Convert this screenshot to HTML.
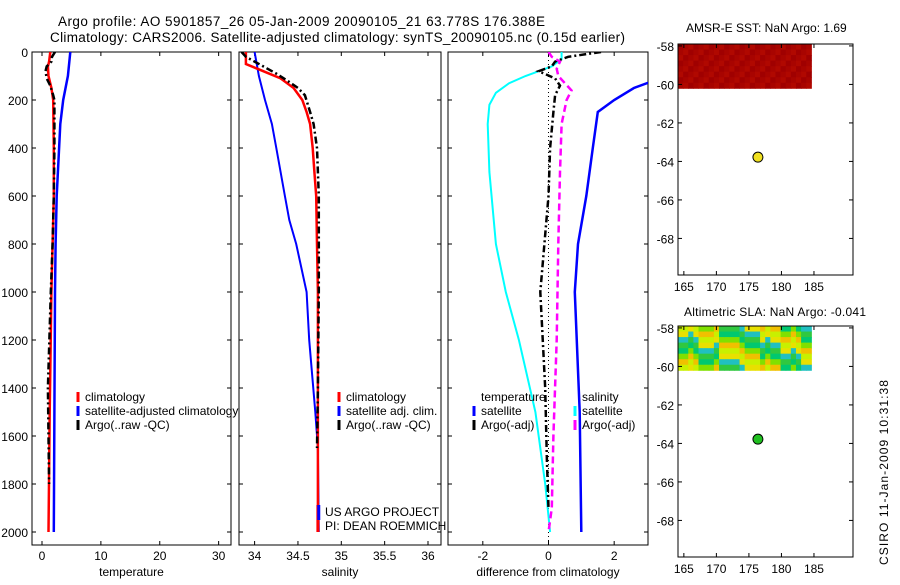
<!DOCTYPE html>
<html><head><meta charset="utf-8"><style>
body{margin:0;background:#fff;width:900px;height:580px;overflow:hidden}
svg text{font-family:"Liberation Sans",sans-serif;font-size:12px;fill:#000}
</style></head><body>
<svg id="c" width="900" height="580" xmlns="http://www.w3.org/2000/svg">
<text x="58" y="26" textLength="487" style="font-size:13.5px">Argo profile: AO 5901857_26 05-Jan-2009 20090105_21 63.778S 176.388E</text>
<text x="50" y="42" textLength="575" style="font-size:13.5px">Climatology: CARS2006. Satellite-adjusted climatology: synTS_20090105.nc (0.15d earlier)</text>
<text x="686" y="32">AMSR-E SST: NaN Argo: 1.69</text>
<text x="684" y="316" textLength="182">Altimetric SLA: NaN Argo: -0.041</text>
<text transform="translate(888,565) rotate(-90)" textLength="185">CSIRO 11-Jan-2009 10:31:38</text>
</svg>
<script>
const depthTicks=[0,200,400,600,800,1000,1200,1400,1600,1800,2000];
const tTicks=[0,10,20,30], sTicks=[34,34.5,35,35.5,36], dTicks=[-2,0,2];
const lonTicks=[165,170,175,180,185], latTicks=[-58,-60,-62,-64,-66,-68];
// temperature panel
const tClimD=[0,40,60,100,150,200,400,600,1000,1500,2000];
const tClimV=[1.4,1.2,1.0,1.1,1.6,1.9,2.0,2.0,1.6,1.3,1.1];
const tSatD=[0,100,200,300,600,800,1000,1500,2000];
const tSatV=[4.8,4.4,3.6,3.1,2.5,2.3,2.2,2.1,2.0];
const tArgoD=[0,20,40,60,80,110,140,180,200,400,600,800,1000,1400,1600,1800];
const tArgoV=[2.2,1.7,1.6,0.8,0.6,0.8,1.4,1.9,2.1,2.1,2.0,1.8,1.5,1.0,1.1,1.2];
// salinity panel
const sClimD=[0,50,80,110,150,200,250,300,400,500,600,800,1000,2000];
const sClimV=[33.9,33.9,34.1,34.3,34.45,34.55,34.6,34.64,34.67,34.69,34.71,34.72,34.73,34.73];
const sSatD=[0,100,200,300,400,600,700,800,1000,1200,1500,1650,2000];
const sSatV=[34.0,34.05,34.12,34.2,34.25,34.35,34.4,34.48,34.6,34.63,34.7,34.73,34.74];
const sArgoD=[0,20,40,60,90,120,150,180,250,300,400,600,1000,1400,1650];
const sArgoV=[33.85,33.9,34.0,34.1,34.25,34.38,34.5,34.58,34.64,34.68,34.72,34.74,34.74,34.73,34.72];
// difference panel
const dTSatD=[0,50,100,150,200,250,400,600,800,1000,1500,2000];
const dTSatV=[6,5,3.6,2.6,2.0,1.5,1.35,1.15,0.9,0.8,0.95,1.0];
const dSSatD=[0,30,60,100,130,170,220,300,500,800,1000,1200,1500,1800,2000];
const dSSatV=[0.4,0.4,0.1,-0.7,-1.2,-1.6,-1.8,-1.85,-1.8,-1.6,-1.3,-0.9,-0.4,-0.1,0.05];
const dTArgoD=[0,20,40,60,80,110,140,180,250,400,600,1000,1400,1700,1900];
const dTArgoV=[1.6,0.6,0.2,0.1,-0.3,0.2,0.35,0.2,0.15,0.05,0.0,-0.25,-0.1,-0.05,0.0];
const dSArgoD=[0,20,40,70,100,130,160,200,300,500,800,1200,1600,1900,2000];
const dSArgoV=[0.0,0.1,0.35,0.25,0.3,0.5,0.7,0.55,0.4,0.35,0.3,0.25,0.15,0.1,0.0];
// maps
const argoLon=176.388, argoLat=-63.778, fieldEastLon=184.6;
const sstCols=["#a00000","#a80400","#b00800"];
const slaCols=["#c8f000","#80e000","#30c840","#e8e000","#f0c000","#00c870","#20c0c0"];

const svg=document.getElementById('c');
const NS='http://www.w3.org/2000/svg';
function mk(tag,a,name,par){const e=document.createElementNS(NS,tag);for(const k in a)e.setAttribute(k,a[k]);


(par||svg).appendChild(e);return e;}
function txt(x,y,s,name,anchor){const e=mk('text',{x:x,y:y,'text-anchor':anchor||'start'},name);e.textContent=s;return e;}
const Y0=52,YS=0.24; const ys=d=>Y0+d*YS;
function panel(x0,x1,xmin,xmax,ticks,label,name,leftLabels){
 const sx=v=>x0+(v-xmin)/(xmax-xmin)*(x1-x0);
 mk('rect',{x:x0,y:52,width:x1-x0,height:493,fill:'none',stroke:'#000','stroke-width':1},name+'-frame');
 depthTicks.forEach(d=>{mk('line',{x1:x0,x2:x0+4,y1:ys(d),y2:ys(d),stroke:'#000'},name+'-ytick');
  mk('line',{x1:x1,x2:x1-4,y1:ys(d),y2:ys(d),stroke:'#000'},name+'-ytick');
  if(leftLabels)txt(x0-4,ys(d)+5,String(d),'y-tick-label','end');});
 ticks.forEach(t=>{mk('line',{x1:sx(t),x2:sx(t),y1:545,y2:541,stroke:'#000'},name+'-xtick');
  mk('line',{x1:sx(t),x2:sx(t),y1:52,y2:56,stroke:'#000'},name+'-xtick');
  txt(sx(t),560,String(t),name+'-x-tick-label','middle');});
 txt((x0+x1)/2,576,label,name+'-x-axis-title','middle');
 return sx;}
function line(sx,D,V,col,w,dash,name,x0,x1){
 const clip='cp'+name;
 const cp=mk('clipPath',{id:clip},name+'-clip');mk('rect',{x:x0,y:52,width:x1-x0,height:493},name+'-clip-rect',cp);
 const pts=D.map((d,i)=>sx(V[i]).toFixed(1)+','+ys(d).toFixed(1)).join(' ');
 const a={points:pts,fill:'none',stroke:col,'stroke-width':w,'clip-path':'url(#'+clip+')'};if(dash)a['stroke-dasharray']=dash;
 mk('polyline',a,name);}
function leg(x,y,col,s,name){mk('line',{x1:x,x2:x,y1:y-9,y2:y+1,stroke:col,'stroke-width':3},name+'-swatch');txt(x+7,y,s,name);}
// panel 1
let sx=panel(32,231,-1.7,32.1,tTicks,'temperature','temp-panel',true);
line(sx,tSatD,tSatV,'#0000ff',2.5,null,'temp-satellite-line',32,231);
line(sx,tClimD,tClimV,'#ff0000',2.5,null,'temp-climatology-line',32,231);
line(sx,tArgoD,tArgoV,'#000',2.5,'7,3,2,3','temp-argo-line',32,231);
leg(78,401,'#ff0000','climatology','legend-climatology');
leg(78,415,'#0000ff','satellite-adjusted climatology','legend-satellite');
leg(78,429,'#000','Argo(..raw -QC)','legend-argo');
// panel 2
sx=panel(239,441,33.82,36.15,sTicks,'salinity','sal-panel',false);
line(sx,sSatD,sSatV,'#0000ff',2,null,'sal-satellite-line',239,441);
line(sx,sClimD,sClimV,'#ff0000',2.5,null,'sal-climatology-line',239,441);
line(sx,sArgoD,sArgoV,'#000',2.5,'7,3,2,3','sal-argo-line',239,441);
mk('line',{x1:sx(34.73),x2:sx(34.73),y1:505,y2:532,stroke:'#ff0000','stroke-width':3},'sal-clim-end');
mk('line',{x1:sx(34.74),x2:sx(34.74),y1:505,y2:520,stroke:'#0000ff','stroke-width':3},'sal-sat-end');
leg(339,401,'#ff0000','climatology','legend-climatology-2');
leg(339,415,'#0000ff','satellite adj. clim.','legend-satellite-2');
leg(339,429,'#000','Argo(..raw -QC)','legend-argo-2');
txt(325,516,'US ARGO PROJECT','project-label');
txt(325,530,'PI: DEAN ROEMMICH','pi-label');
// panel 3
sx=panel(448,648,-3.06,3.03,dTicks,'difference from climatology','diff-panel',false);
mk('line',{x1:sx(0),x2:sx(0),y1:52,y2:545,stroke:'#000','stroke-dasharray':'1,3'},'zero-line');
line(sx,dTSatD,dTSatV,'#0000ff',2.5,null,'diff-temp-satellite-line',448,648);
line(sx,dSSatD,dSSatV,'#00ffff',2,null,'diff-sal-satellite-line',448,648);
line(sx,dTArgoD,dTArgoV,'#000',2.5,'7,3,2,3','diff-temp-argo-line',448,648);
line(sx,dSArgoD,dSArgoV,'#ff00ff',2.5,'7,4','diff-sal-argo-line',448,648);
txt(481,401,'temperature','legend-temperature-head');
txt(582,401,'salinity','legend-salinity-head');
leg(474,415,'#0000ff','satellite','legend-temp-satellite');
leg(474,429,'#000','Argo(-adj)','legend-temp-argo');
leg(575,415,'#00ffff','satellite','legend-sal-satellite');
leg(575,429,'#ff00ff','Argo(-adj)','legend-sal-argo');
// maps
function map(yTop,name,cols,dot,blk){
 const x0=678,x1=853,h=231,lo=164.1,hi=191,la0=-57.9,la1=-69.9;
 const mx=v=>x0+(v-lo)/(hi-lo)*(x1-x0), my=v=>yTop+(v-la0)/(la1-la0)*h;
 const g=mk('g',{},name+'-field');
 const cw=(mx(fieldEastLon)-mx(lo))/26, ch=(my(-60.2)-my(la0))/8;
 for(let i=0;i<26;i++)for(let j=0;j<8;j++){
  const k=blk?((i*7+j*3+(i>>2)+(i%5==2?3:0))%cols.length):((i+j)%cols.length);
  mk('rect',{x:mx(lo)+i*cw,y:yTop+j*ch,width:cw+0.5,height:ch+0.5,fill:cols[k]},name+'-cell',g);}
 mk('rect',{x:x0,y:yTop,width:x1-x0,height:h,fill:'none',stroke:'#000'},name+'-frame');
 lonTicks.forEach(t=>{mk('line',{x1:mx(t),x2:mx(t),y1:yTop,y2:yTop+4,stroke:'#000'},name+'-xtick');
  mk('line',{x1:mx(t),x2:mx(t),y1:yTop+h,y2:yTop+h-4,stroke:'#000'},name+'-xtick');
  txt(mx(t),yTop+h+16,String(t),name+'-x-tick-label','middle');});
 latTicks.forEach(t=>{mk('line',{x1:x0,x2:x0+4,y1:my(t),y2:my(t),stroke:'#000'},name+'-ytick');
  mk('line',{x1:x1,x2:x1-4,y1:my(t),y2:my(t),stroke:'#000'},name+'-ytick');
  txt(x0-4,my(t)+5,String(t),name+'-y-tick-label','end');});
 mk('circle',{cx:mx(argoLon),cy:my(argoLat),r:5,fill:dot,stroke:'#000'},name+'-argo-marker');}
map(44,'sst-map',sstCols,'#f0e020',false);
map(326,'sla-map',slaCols,'#20c020',true);
</script>
</body></html>
